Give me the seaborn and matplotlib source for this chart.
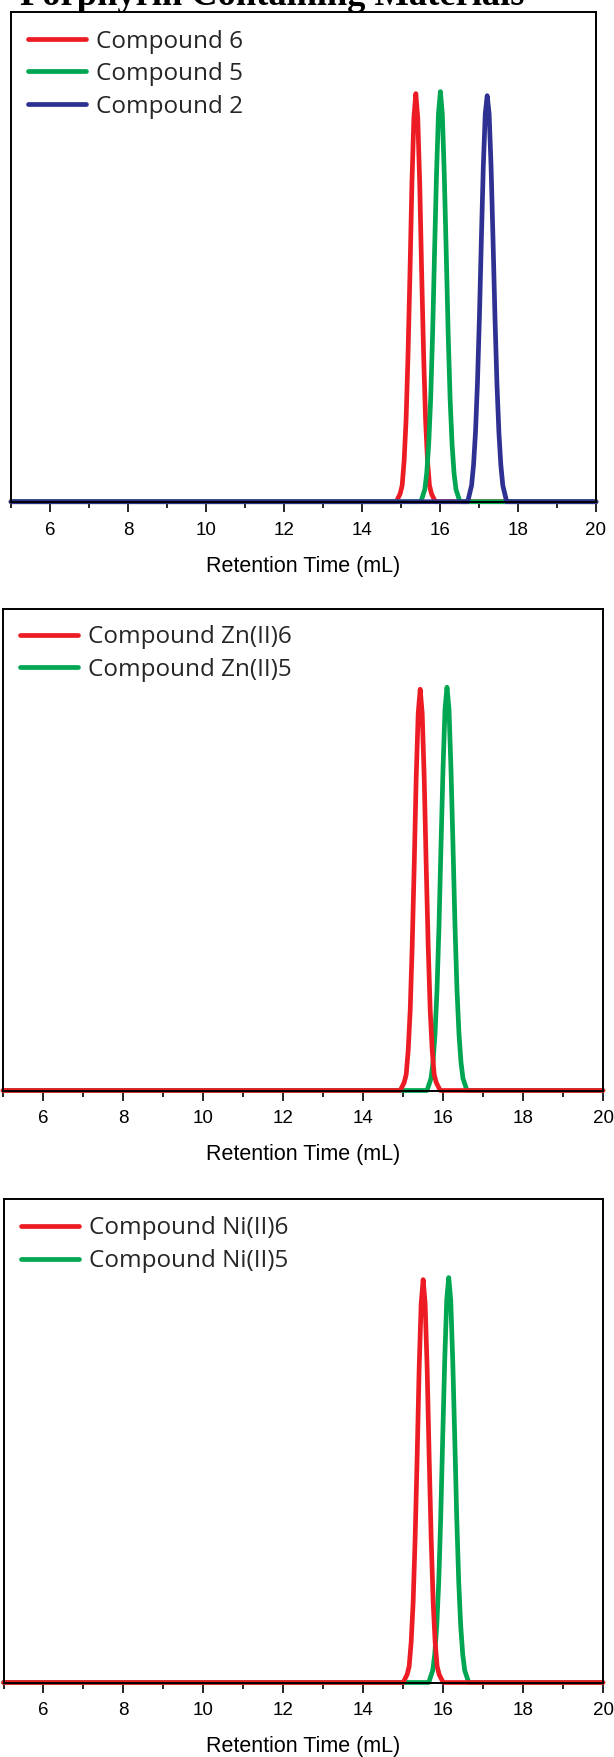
import matplotlib
matplotlib.use("Agg")
import matplotlib.pyplot as plt
import seaborn as sns
from matplotlib.lines import Line2D

# ---------------- data ----------------
title = "Porphyrin Containing Materials"
xlabel = "Retention Time (mL)"
x_major_ticks = [6, 8, 10, 12, 14, 16, 18, 20]
x_minor_ticks = [5, 7, 9, 11, 13, 15, 17, 19]

# Panel 1
p1_labels = ["Compound 6", "Compound 5", "Compound 2"]
p1_red_x = [5.0, 14.88, 14.98, 15.03, 15.08, 15.13, 15.18, 15.23, 15.28, 15.33, 15.38,
            15.43, 15.48, 15.53, 15.58, 15.63, 15.68, 15.73, 15.78, 15.88, 20.0]
p1_red_y = [0.0, 0.0, 0.02, 0.04, 0.10, 0.20, 0.36, 0.56, 0.78, 0.94, 1.0,
            0.94, 0.78, 0.56, 0.36, 0.20, 0.10, 0.04, 0.02, 0.0, 0.0]
p1_green_x = [5.0, 15.51, 15.61, 15.66, 15.71, 15.76, 15.81, 15.86, 15.91, 15.96, 16.01,
              16.06, 16.11, 16.16, 16.21, 16.26, 16.31, 16.36, 16.41, 16.51, 20.0]
p1_green_y = [0.0, 0.0, 0.03, 0.07, 0.14, 0.25, 0.41, 0.61, 0.80, 0.95, 1.005,
              0.95, 0.80, 0.61, 0.41, 0.25, 0.14, 0.07, 0.03, 0.0, 0.0]
p1_blue_x = [5.0, 16.71, 16.81, 16.86, 16.91, 16.96, 17.01, 17.06, 17.11, 17.16, 17.21,
             17.26, 17.31, 17.36, 17.41, 17.46, 17.51, 17.56, 17.61, 17.71, 20.0]
p1_blue_y = [0.0, 0.0, 0.04, 0.09, 0.17, 0.29, 0.45, 0.64, 0.82, 0.95, 0.995,
             0.95, 0.82, 0.64, 0.45, 0.29, 0.17, 0.09, 0.04, 0.0, 0.0]

# Panel 2
p2_labels = ["Compound Zn(II)6", "Compound Zn(II)5"]
p2_red_x = [5.0, 14.93, 15.03, 15.08, 15.13, 15.18, 15.23, 15.28, 15.33, 15.38, 15.43,
            15.48, 15.53, 15.58, 15.63, 15.68, 15.73, 15.78, 15.83, 15.93, 20.0]
p2_red_y = [0.0, 0.0, 0.02, 0.04, 0.10, 0.20, 0.36, 0.56, 0.78, 0.94, 1.0,
            0.94, 0.78, 0.56, 0.36, 0.20, 0.10, 0.04, 0.02, 0.0, 0.0]
p2_green_x = [5.0, 15.60, 15.70, 15.75, 15.80, 15.85, 15.90, 15.95, 16.00, 16.05, 16.10,
              16.15, 16.20, 16.25, 16.30, 16.35, 16.40, 16.45, 16.50, 16.60, 20.0]
p2_green_y = [0.0, 0.0, 0.03, 0.07, 0.14, 0.25, 0.41, 0.61, 0.80, 0.95, 1.005,
              0.95, 0.80, 0.61, 0.41, 0.25, 0.14, 0.07, 0.03, 0.0, 0.0]

# Panel 3
p3_labels = ["Compound Ni(II)6", "Compound Ni(II)5"]
p3_red_x = [5.0, 15.00, 15.10, 15.15, 15.20, 15.25, 15.30, 15.35, 15.40, 15.45, 15.50,
            15.55, 15.60, 15.65, 15.70, 15.75, 15.80, 15.85, 15.90, 16.00, 20.0]
p3_red_y = [0.0, 0.0, 0.02, 0.04, 0.10, 0.20, 0.36, 0.56, 0.78, 0.94, 1.0,
            0.94, 0.78, 0.56, 0.36, 0.20, 0.10, 0.04, 0.02, 0.0, 0.0]
p3_green_x = [5.0, 15.64, 15.74, 15.79, 15.84, 15.89, 15.94, 15.99, 16.04, 16.09, 16.14,
              16.19, 16.24, 16.29, 16.34, 16.39, 16.44, 16.49, 16.54, 16.64, 20.0]
p3_green_y = [0.0, 0.0, 0.03, 0.07, 0.14, 0.25, 0.41, 0.61, 0.80, 0.95, 1.005,
              0.95, 0.80, 0.61, 0.41, 0.25, 0.14, 0.07, 0.03, 0.0, 0.0]

RED = "#ED1C24"
GREEN = "#00A651"
BLUE = "#2E3192"

# ---------------- style ----------------
sns.set_theme(style="ticks")
plt.rcParams["font.family"] = ["Liberation Sans", "DejaVu Sans"]

W, H = 614, 1757
fig = plt.figure(figsize=(W / 100, H / 100), dpi=100)
LW = 3.4


def px_axes(left, top, right, bottom):
    return fig.add_axes([left / W, 1 - bottom / H, (right - left) / W, (bottom - top) / H])


def style_axes(ax):
    ax.set_xlim(5, 20)
    ax.set_ylim(0, 1.2)
    ax.set_yticks([])
    ax.set_ylabel("")
    ax.set_xticks(x_major_ticks)
    ax.set_xticks(x_minor_ticks, minor=True)
    ax.set_xticklabels([str(t) for t in x_major_ticks])
    ax.tick_params(axis="x", which="major", direction="out", length=7.2, width=1.2,
                   color="black", labelsize=13.5, pad=7.1, labelcolor="black")
    ax.tick_params(axis="x", which="minor", direction="out", length=4.3, width=1.2,
                   color="black")
    for sp in ax.spines.values():
        sp.set_visible(True)
        sp.set_color("black")
        sp.set_linewidth(1.4)
    ax.set_xlabel(xlabel, fontsize=15.5, labelpad=12.3, color="black")
    ax.set_facecolor("white")
    for ln in ax.lines:
        ln.set_clip_on(False)
        ln.set_solid_capstyle("round")
        ln.set_solid_joinstyle("round")


def draw(ax, series, legend_items, left_px, top_px, ax_left, ax_top, ax_w, ax_h):
    for xs, ys, col in series:
        sns.lineplot(x=xs, y=ys, ax=ax, color=col, linewidth=LW, estimator=None,
                     sort=False, legend=False)
    style_axes(ax)
    handles = [Line2D([0], [0], color=c, lw=LW, solid_capstyle="round") for _, c in legend_items]
    labels = [l for l, _ in legend_items]
    ax.legend(handles, labels, loc="upper left",
              bbox_to_anchor=((left_px - ax_left) / ax_w, 1 - (top_px - ax_top) / ax_h),
              frameon=False, handlelength=2.4, handletextpad=0.4,
              labelspacing=0.35, borderaxespad=0, borderpad=0,
              prop={"family": ["Open Sans", "DejaVu Sans"], "size": 17.5})


# Panel 1
a1 = (11, 12, 596, 501.7)
ax1 = px_axes(*a1)
draw(ax1, [(p1_red_x, p1_red_y, RED), (p1_green_x, p1_green_y, GREEN), (p1_blue_x, p1_blue_y, BLUE)],
     list(zip(p1_labels, [RED, GREEN, BLUE])), 28, 29.5,
     a1[0], a1[1], a1[2] - a1[0], a1[3] - a1[1])

# Panel 2
a2 = (3, 609, 603, 1090.5)
ax2 = px_axes(*a2)
draw(ax2, [(p2_green_x, p2_green_y, GREEN), (p2_red_x, p2_red_y, RED)],
     list(zip(p2_labels, [RED, GREEN])), 20, 625.5,
     a2[0], a2[1], a2[2] - a2[0], a2[3] - a2[1])

# Panel 3
a3 = (3.5, 1199, 603, 1682.5)
ax3 = px_axes(*a3)
draw(ax3, [(p3_green_x, p3_green_y, GREEN), (p3_red_x, p3_red_y, RED)],
     list(zip(p3_labels, [RED, GREEN])), 21, 1216.5,
     a3[0], a3[1], a3[2] - a3[0], a3[3] - a3[1])

fig.text(20 / W, 1 - 5 / H, title, ha="left", va="baseline",
         fontfamily=["Liberation Serif", "DejaVu Serif"], fontweight="bold", fontsize=26.3,
         color="black")

fig.savefig("out.png", dpi=100, facecolor="white")
